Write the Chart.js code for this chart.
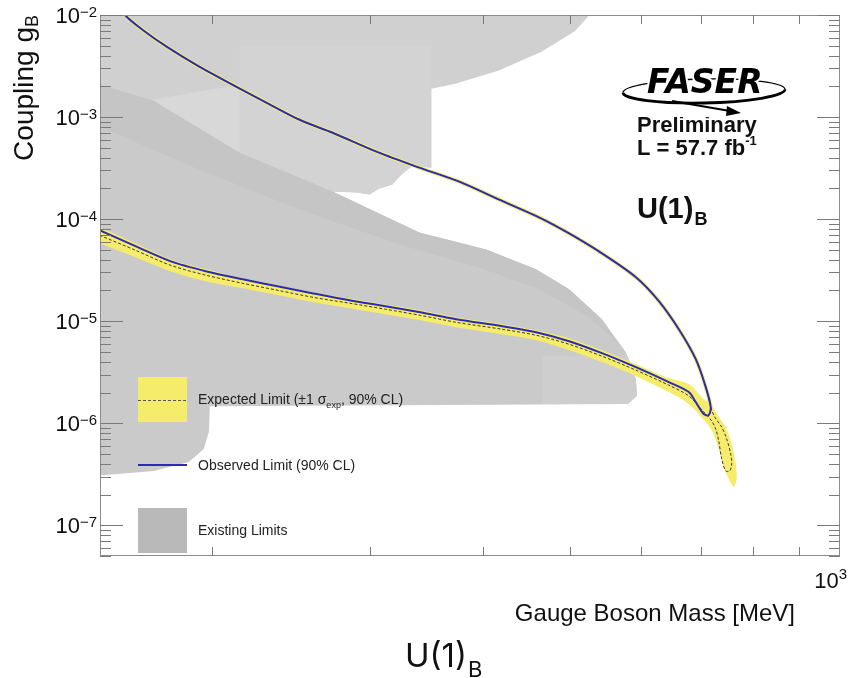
<!DOCTYPE html>
<html>
<head>
<meta charset="utf-8">
<script src="https://cdn.jsdelivr.net/npm/chart.js@4.4.1/dist/chart.umd.min.js"></script>
<style>
html,body{margin:0;padding:0;background:#ffffff;}
#wrap{width:854px;height:678px;position:relative;}
canvas{display:block;}
</style>
</head>
<body>
<div id="wrap"><canvas id="c" width="854" height="678"></canvas></div>
<script>
// ---------- DATA (mass in MeV, coupling g_B) ----------
// Observed limit, upper branch (from small mass, large coupling down to the turning point)
const obsUpperMass = [157.9,159.9,167.4,178.1,193.7,210.8,230.0,250.2,272.3,304.7,337.5,376.8,417.4,462.3,499.4,543.2,592.6,628.5,661.5,690.9,708.8,717.9,714.2];
const obsUpperG    = [1.253e-2,1.0e-2,7.14e-3,4.87e-3,3.10e-3,2.07e-3,1.38e-3,9.41e-4,7.02e-4,4.58e-4,3.27e-4,2.33e-4,1.55e-4,1.04e-4,7.23e-5,4.61e-5,2.69e-5,1.57e-5,8.33e-6,4.24e-6,2.26e-6,1.44e-6,1.20e-6];
// Observed limit, lower branch (from the turning point back to small mass)
const obsLowerMass = [705.2,690.9,678.6,644.8,592.6,543.2,499.4,458.8,420.6,373.9,341.0,311.8,284.4,259.3,237.1,216.3,197.2,179.9,164.5,150.0,148.1];
const obsLowerG    = [1.23e-6,1.61e-6,2.02e-6,2.53e-6,3.54e-6,4.86e-6,6.36e-6,7.79e-6,8.92e-6,1.044e-5,1.22e-5,1.40e-5,1.60e-5,1.87e-5,2.19e-5,2.57e-5,3.07e-5,3.85e-5,5.40e-5,7.74e-5,8.09e-5];

// Expected limit contour (lower branch -> tail -> upper branch)
const expMass = [148.1,150.0,164.5,179.9,197.2,216.3,237.1,259.3,284.4,311.8,341.0,373.9,420.6,458.8,499.4,543.2,592.6,644.8,678.6,705.2,
                 719.8,727.2,732.8,738.4,746.0,753.7,757.6,755.6,747.9,738.4,725.3,717.9,
                 708.8,690.9,661.5,628.5,592.6,543.2,499.4,462.3,417.4,376.8,337.5,304.7,272.3,250.2,230.0,210.8,193.7,178.1,167.4,159.9,157.9];
const expG    = [7.23e-5,6.91e-5,4.93e-5,3.52e-5,2.81e-5,2.35e-5,2.00e-5,1.71e-5,1.50e-5,1.31e-5,1.14e-5,9.75e-6,8.33e-6,7.28e-6,5.94e-6,4.54e-6,3.31e-6,2.36e-6,1.85e-6,1.29e-6,
                 1.05e-6,8.78e-7,6.70e-7,4.47e-7,3.41e-7,3.41e-7,3.99e-7,5.00e-7,7.01e-7,9.18e-7,1.15e-6,1.44e-6,
                 2.26e-6,4.24e-6,8.33e-6,1.57e-5,2.69e-5,4.61e-5,7.23e-5,1.04e-4,1.55e-4,2.33e-4,3.27e-4,4.58e-4,7.02e-4,9.41e-4,1.38e-3,2.07e-3,3.10e-3,4.87e-3,7.14e-3,1.0e-2,1.253e-2];

// Expected +-1 sigma band (closed outline: upper edge, tail, lower edge)
const bandMass = [148.1,150.0,164.5,179.9,197.2,216.3,237.1,259.3,284.4,311.8,341.0,373.9,420.6,458.8,499.4,543.2,592.6,644.8,678.6,705.2,717.9,
                  732.8,746.0,757.6,765.4,767.3,761.5,751.8,742.2,732.8,721.6,708.8,
                  705.2,678.6,644.8,592.6,543.2,499.4,458.8,420.6,373.9,341.0,311.8,284.4,259.3,237.1,216.3,197.2,179.9,164.5,150.0,148.1];
const bandG    = [8.66e-5,8.28e-5,5.77e-5,4.03e-5,3.22e-5,2.63e-5,2.24e-5,1.92e-5,1.67e-5,1.46e-5,1.28e-5,1.09e-5,9.33e-6,8.15e-6,6.81e-6,5.19e-6,3.79e-6,2.77e-6,2.42e-6,1.72e-6,1.54e-6,
                  1.15e-6,9.18e-7,6.26e-7,3.99e-7,2.85e-7,2.38e-7,2.85e-7,3.73e-7,5.60e-7,8.20e-7,1.03e-6,
                  1.08e-6,1.54e-6,2.02e-6,2.89e-6,3.97e-6,5.19e-6,6.51e-6,7.45e-6,8.72e-6,1.02e-5,1.17e-5,1.34e-5,1.53e-5,1.79e-5,2.10e-5,2.45e-5,3.07e-5,4.21e-5,5.77e-5,6.00e-5];

// Existing limits (grey regions, outlines)
const limTopMass = [148.1,532.2,507.1,464.7,416.3,373.0,350.7,350.7,334.1,324.8,317.4,307.0,299.3,289.5,272.3,214.6,171.3,148.1];
const limTopG    = [1.119e-2,1.119e-2,6.98e-3,4.35e-3,2.84e-3,2.12e-3,1.89e-3,3.19e-4,3.34e-4,2.73e-4,2.18e-4,1.99e-4,1.74e-4,1.82e-4,1.86e-4,4.48e-4,1.48e-3,2.16e-3];
const limMidMass = [214.6,350.7,350.7,334.1,324.8,317.4,307.0,299.3,289.5,272.3,214.6];
const limMidG    = [5.09e-3,5.09e-3,3.19e-4,3.34e-4,2.73e-4,2.18e-4,1.99e-4,1.74e-4,1.82e-4,1.86e-4,4.48e-4];
const limPatchMass = [171.3,214.6,214.6];
const limPatchG    = [1.48e-3,2.07e-3,4.48e-4];
const limBandMass = [148.1,171.3,214.6,272.3,340.1,403.7,458.8,499.4,543.2,577.6,592.6,594.1,580.6,198.8,198.3,195.7,188.4,172.2,148.1];
const limBandG    = [2.16e-3,1.48e-3,4.48e-4,1.86e-4,7.40e-5,5.04e-5,3.22e-5,2.05e-5,1.044e-5,4.97e-6,2.70e-6,1.85e-6,1.54e-6,1.47e-6,8.20e-7,5.60e-7,4.18e-7,3.41e-7,3.05e-7];
const limStripeMass = [148.1,171.3,214.6,272.3,340.1,403.7,458.8,499.4,543.2,567.4,525.5,462.3,396.5,323.2,250.2,193.7,148.1];
const limStripeG    = [2.16e-3,1.48e-3,4.48e-4,1.86e-4,7.40e-5,5.04e-5,3.22e-5,2.05e-5,1.044e-5,5.94e-6,1.09e-5,2.05e-5,3.36e-5,5.65e-5,1.24e-4,3.05e-4,8.41e-4];
const limBoxMass = [465.9,580.6,592.6,594.1,580.6,465.9];
const limBoxG    = [4.54e-6,4.54e-6,2.70e-6,1.85e-6,1.54e-6,1.54e-6];

// Axes / ticks
const xMin = 150, xMax = 1000;
const yMin = 5e-8, yMax = 1e-2;
const xTickValues = [200,300,400,500,600,700,800,900];
const xLabelExponents = [3];
const yLabelExponents = [-2,-3,-4,-5,-6,-7];

// Texts
const legendLabels = ['Expected Limit (\u00b11 \u03c3', 'Observed Limit (90% CL)', 'Existing Limits'];
const xTitle = 'Gauge Boson Mass [MeV]';
const yTitle = 'Coupling g';

// ---------- helpers ----------
const pts = (m, g) => m.map((v, i) => ({x: v, y: g[i]}));
const region = (m, g, color, order, tension) => ({
  data: pts(m, g), order: order, fill: 'shape', backgroundColor: color,
  borderWidth: 0, borderColor: 'rgba(0,0,0,0)', pointRadius: 0, pointHoverRadius: 0, tension: tension || 0
});

const YELLOW = '#f5ec6c';
const BLUE = '#2b2bb5';
const SANS = '"Liberation Sans", Arial, Helvetica, sans-serif';

function supText(ctx, base, sup, xRight, baseY, baseFont, supFont, supDy) {
  ctx.font = baseFont; const wb = ctx.measureText(base).width;
  ctx.font = supFont; const ws = ctx.measureText(sup).width;
  const x0 = xRight - wb - ws;
  ctx.font = baseFont; ctx.textAlign = 'left'; ctx.fillText(base, x0, baseY);
  ctx.font = supFont; ctx.fillText(sup, x0 + wb, baseY + supDy);
}

const decor = {
  id: 'decor',
  afterDraw(chart) {
    const {ctx, chartArea: a, scales: {x, y}} = chart;
    ctx.save();
    ctx.textBaseline = 'alphabetic';

    // ---- frame ----
    ctx.strokeStyle = '#8c8c8c'; ctx.lineWidth = 1;
    ctx.strokeRect(a.left + 0.5, a.top + 0.5, a.right - a.left - 1, a.bottom - a.top - 1);

    // ---- y ticks (inward, both sides) ----
    ctx.strokeStyle = '#7a7a7a';
    ctx.beginPath();
    for (let n = -8; n <= -2; n++) {
      for (let k = 1; k <= 9; k++) {
        const v = k * Math.pow(10, n);
        if (v < yMin * 0.999 || v > yMax * 1.001) continue;
        const py = Math.round(y.getPixelForValue(v)) + 0.5;
        const len = (k === 1) ? 23 : 11;
        ctx.moveTo(a.left, py); ctx.lineTo(a.left + len, py);
        ctx.moveTo(a.right, py); ctx.lineTo(a.right - len, py);
      }
    }
    // ---- x ticks ----
    xTickValues.forEach(v => {
      const px = Math.round(x.getPixelForValue(v)) + 0.5;
      ctx.moveTo(px, a.bottom); ctx.lineTo(px, a.bottom - 9);
      ctx.moveTo(px, a.top); ctx.lineTo(px, a.top + 9);
    });
    ctx.stroke();

    // ---- tick labels ----
    ctx.fillStyle = '#111';
    yLabelExponents.forEach(e => {
      const py = y.getPixelForValue(Math.pow(10, e));
      supText(ctx, '10', '\u2212' + Math.abs(e), a.left - 3, py + 8, '22px ' + SANS, '15px ' + SANS, -6);
    });
    xLabelExponents.forEach(e => {
      const px = x.getPixelForValue(Math.pow(10, e));
      supText(ctx, '10', String(e), px + 7, a.bottom + 32, '22px ' + SANS, '15px ' + SANS, -9);
    });

    // ---- axis titles ----
    ctx.font = '24px ' + SANS; ctx.textAlign = 'right';
    ctx.fillText(xTitle, 795, 621);
    ctx.save();
    ctx.translate(33, 15); ctx.rotate(-Math.PI / 2);
    ctx.font = '18px ' + SANS; const wB = ctx.measureText('B').width;
    ctx.font = '28px ' + SANS; const wM = ctx.measureText(yTitle).width;
    ctx.textAlign = 'left';
    ctx.fillText(yTitle, -wB - wM, 0);
    ctx.font = '18px ' + SANS; ctx.fillText('B', -wB, 5);
    ctx.restore();

    // ---- legend ----
    const lx = 138, lw = 49, tx = 198;
    // expected
    ctx.fillStyle = YELLOW; ctx.fillRect(lx, 377, lw, 45);
    ctx.strokeStyle = '#555'; ctx.lineWidth = 1; ctx.setLineDash([3, 2]);
    ctx.beginPath(); ctx.moveTo(lx, 400.5); ctx.lineTo(lx + lw, 400.5); ctx.stroke();
    ctx.setLineDash([]);
    ctx.fillStyle = '#222'; ctx.textAlign = 'left';
    ctx.font = '14px ' + SANS;
    let cx = tx;
    ctx.fillText(legendLabels[0], cx, 404); cx += ctx.measureText(legendLabels[0]).width;
    ctx.font = '9px ' + SANS; ctx.fillText('exp', cx, 408); cx += ctx.measureText('exp').width;
    ctx.font = '14px ' + SANS; ctx.fillText(', 90% CL)', cx, 404);
    // observed
    ctx.strokeStyle = BLUE; ctx.lineWidth = 2;
    ctx.beginPath(); ctx.moveTo(lx, 465); ctx.lineTo(lx + lw, 465); ctx.stroke();
    ctx.fillStyle = '#222'; ctx.fillText(legendLabels[1], tx, 470);
    // existing
    ctx.fillStyle = '#b9b9b9'; ctx.fillRect(lx, 508, lw, 45);
    ctx.fillStyle = '#222'; ctx.fillText(legendLabels[2], tx, 535);

    // ---- FASER label block ----
    ctx.fillStyle = '#111';
    ctx.font = 'bold 22px ' + SANS; ctx.textAlign = 'left';
    ctx.fillText('Preliminary', 637, 132);
    ctx.fillStyle = '#ffffff'; ctx.fillRect(628, 96, 150, 21);
    ctx.fillStyle = '#111';
    ctx.font = 'bold 22px ' + SANS;
    ctx.fillText('L = 57.7 fb', 637, 155);
    const wL = ctx.measureText('L = 57.7 fb').width;
    ctx.font = 'bold 13px ' + SANS; ctx.fillText('-1', 637 + wL, 145);
    ctx.font = 'bold 29px ' + SANS; ctx.fillText('U(1)', 637, 218);
    const wU = ctx.measureText('U(1)').width;
    ctx.font = 'bold 18px ' + SANS; ctx.fillText('B', 637 + wU + 1, 225);

    // logo: ellipse swoosh, arrow, FASER letters
    ctx.strokeStyle = '#000';
    ctx.lineWidth = 1.3;
    ctx.beginPath(); ctx.ellipse(704, 91, 81, 12, -0.02, Math.PI, 2 * Math.PI); ctx.stroke();
    ctx.lineWidth = 2.8;
    ctx.beginPath(); ctx.ellipse(704, 91, 81, 12, -0.02, 0, Math.PI); ctx.stroke();
    ctx.lineWidth = 2.2;
    ctx.beginPath(); ctx.moveTo(672, 101); ctx.lineTo(730, 111); ctx.stroke();
    ctx.fillStyle = '#000';
    ctx.beginPath(); ctx.moveTo(741, 113); ctx.lineTo(727, 106); ctx.lineTo(726, 116); ctx.closePath(); ctx.fill();
    ctx.font = 'italic bold 33px "DejaVu Sans", sans-serif';
    ctx.textAlign = 'left';
    ctx.lineWidth = 4; ctx.strokeStyle = '#fff'; ctx.lineJoin = 'round';
    ctx.strokeText('FASER', 647, 93);
    ctx.fillStyle = '#000'; ctx.fillText('FASER', 647, 93);

    // ---- bottom title ----
    ctx.fillStyle = '#111';
    ctx.font = '33px Inter, "Noto Sans", sans-serif'; ctx.textAlign = 'left';
    ctx.fillText('U(1)', 405, 667);
    const wT = ctx.measureText('U(1)').width;
    ctx.font = '22px Inter, "Noto Sans", sans-serif';
    ctx.fillText('B', 405 + wT + 1, 677);

    ctx.restore();
  }
};

const chart = new Chart(document.getElementById('c'), {
  type: 'line',
  data: {
    datasets: [
      {label: 'Observed Limit (90% CL)', data: pts(obsUpperMass.concat(obsLowerMass), obsUpperG.concat(obsLowerG)),
       order: 1, borderColor: BLUE, borderWidth: 2, fill: false, pointRadius: 0, tension: 0.3},
      {label: 'Expected Limit', data: pts(expMass, expG), order: 2, borderColor: '#3a3a3a', borderWidth: 1,
       borderDash: [3, 2], fill: false, pointRadius: 0, tension: 0.3},
      {label: 'band halo', data: pts(obsUpperMass, obsUpperG), order: 3, borderColor: YELLOW, borderWidth: 4,
       fill: false, pointRadius: 0, tension: 0.3},
      Object.assign(region(bandMass, bandG, YELLOW, 4, 0.3), {label: 'Expected band'}),
      Object.assign(region(limBoxMass, limBoxG, '#cecece', 5), {label: 'Existing d'}),
      Object.assign(region(limStripeMass, limStripeG, '#c5c5c5', 6), {label: 'Existing c'}),
      Object.assign(region(limBandMass, limBandG, '#cacaca', 7), {label: 'Existing b'}),
      Object.assign(region(limPatchMass, limPatchG, '#d8d8d8', 8), {label: 'Existing e'}),
      Object.assign(region(limMidMass, limMidG, '#d3d3d3', 9), {label: 'Existing f'}),
      Object.assign(region(limTopMass, limTopG, '#d0d0d0', 10), {label: 'Existing a'})
    ]
  },
  options: {
    responsive: false,
    animation: false,
    devicePixelRatio: 1,
    events: [],
    layout: {padding: {left: 100, top: 15, right: 14, bottom: 122}},
    scales: {
      x: {type: 'logarithmic', min: xMin, max: xMax, display: false},
      y: {type: 'logarithmic', min: yMin, max: yMax, display: false}
    },
    plugins: {legend: {display: false}, tooltip: {enabled: false}, title: {display: false}}
  },
  plugins: [decor]
});
</script>
</body>
</html>
